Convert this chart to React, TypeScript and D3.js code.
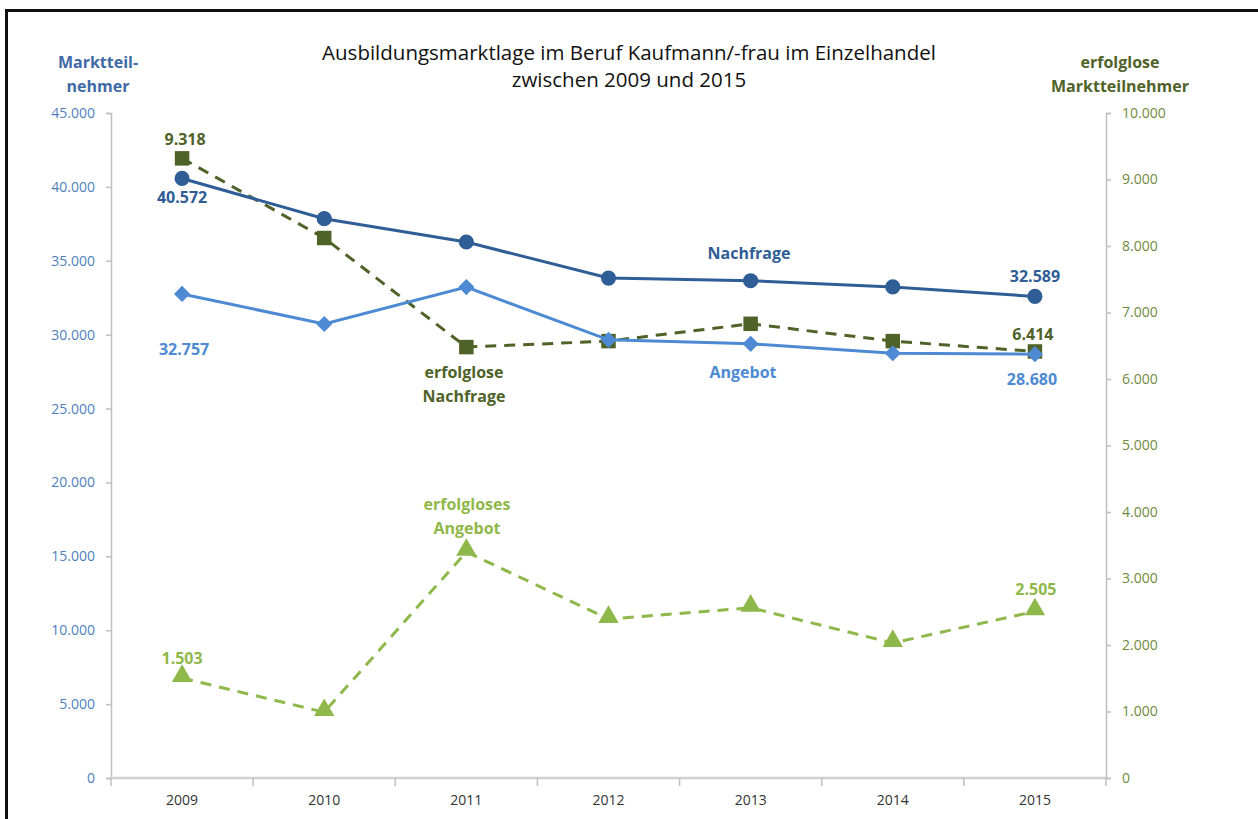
import React, { useEffect, useRef } from "react";
import * as d3 from "d3";

const years = ["2009", "2010", "2011", "2012", "2013", "2014", "2015"];
const nachfrage = [40572, 37850, 36270, 33830, 33650, 33230, 32589];
const angebot = [32757, 30720, 33220, 29650, 29380, 28740, 28680];
const erfolgloseNachfrage = [9318, 8120, 6480, 6570, 6830, 6570, 6414];
const erfolglosesAngebot = [1503, 990, 3400, 2390, 2560, 2030, 2505];
const leftTicks = [0, 5000, 10000, 15000, 20000, 25000, 30000, 35000, 40000, 45000];
const rightTicks = [0, 1000, 2000, 3000, 4000, 5000, 6000, 7000, 8000, 9000, 10000];

const fmt = (v: number) =>
  v === 0 ? "0" : d3.format(",")(v).replace(/,/g, ".");

const Chart = () => {
  const chartEl = useRef<SVGSVGElement>(null);

  useEffect(() => {
    const width = 1258,
      height = 819;
    const left = 111,
      right = 1106,
      top = 113,
      bottom = 778;
    const font = "'Open Sans', sans-serif";

    const svg = d3.select(chartEl.current);
    svg.selectAll("*").remove();
    svg.attr("width", width).attr("height", height);

    svg.append("rect").attr("width", width).attr("height", height).attr("fill", "#fff");

    // frame
    svg
      .append("path")
      .attr("d", `M6.5,${height} V10.5 H${width}`)
      .attr("fill", "none")
      .attr("stroke", "#111")
      .attr("stroke-width", 3);

    const x = d3.scaleBand().domain(years).range([left, right]);
    const xc = (i: number) => (x(years[i]) as number) + x.bandwidth() / 2;
    const yL = d3.scaleLinear().domain([0, 45000]).range([bottom, top]);
    const yR = d3.scaleLinear().domain([0, 10000]).range([bottom, top]);

    const axisColor = "#bfbfbf";

    // left axis
    const gl = svg
      .append("g")
      .attr("transform", `translate(${left},0)`)
      .call(d3.axisLeft(yL).tickValues(leftTicks).tickSize(5).tickPadding(11).tickFormat((d) => fmt(+d)));
    gl.selectAll("path, line").attr("stroke", axisColor).attr("stroke-width", 1.5);
    gl.selectAll("text").attr("fill", "#4f7fbc").style("font", `14px ${font}`);

    // right axis
    const gr = svg
      .append("g")
      .attr("transform", `translate(${right},0)`)
      .call(d3.axisRight(yR).tickValues(rightTicks).tickSize(5).tickPadding(11).tickFormat((d) => fmt(+d)));
    gr.selectAll("path, line").attr("stroke", axisColor).attr("stroke-width", 1.5);
    gr.selectAll("text").attr("fill", "#6f8a3e").style("font", `14px ${font}`);

    // bottom axis
    const gb = svg.append("g").attr("transform", `translate(0,${bottom})`);
    gb.append("line")
      .attr("x1", left)
      .attr("x2", right)
      .attr("stroke", "#d0d0d0")
      .attr("stroke-width", 2.5);
    gb.selectAll(".tk")
      .data(d3.range(years.length + 1))
      .enter()
      .append("line")
      .attr("x1", (i) => left + i * x.step())
      .attr("x2", (i) => left + i * x.step())
      .attr("y1", 0)
      .attr("y2", 8)
      .attr("stroke", axisColor)
      .attr("stroke-width", 1.5);
    gb.selectAll(".yr")
      .data(years)
      .enter()
      .append("text")
      .attr("x", (d, i) => xc(i))
      .attr("y", 27)
      .attr("text-anchor", "middle")
      .attr("fill", "#333")
      .style("font", `14px ${font}`)
      .text((d) => d);

    // titles
    const title = svg
      .append("text")
      .attr("text-anchor", "middle")
      .attr("fill", "#111")
      .style("font", `20.5px ${font}`);
    title.append("tspan").attr("x", 629).attr("y", 60).text("Ausbildungsmarktlage im Beruf Kaufmann/-frau im Einzelhandel");
    title.append("tspan").attr("x", 629).attr("y", 87).text("zwischen 2009 und 2015");

    const axTitle = (xp: number, lines: string[], color: string) => {
      const t = svg
        .append("text")
        .attr("text-anchor", "middle")
        .attr("fill", color)
        .style("font", `bold 16px ${font}`);
      lines.forEach((l, i) => t.append("tspan").attr("x", xp).attr("y", 68 + i * 24).text(l));
    };
    axTitle(98, ["Marktteil-", "nehmer"], "#3f6aa6");
    axTitle(1120, ["erfolglose", "Marktteilnehmer"], "#4f6228");

    const series = [
      { values: erfolglosesAngebot, y: yR, color: "#8fb84a", dash: "11,8", marker: "triangle" },
      { values: erfolgloseNachfrage, y: yR, color: "#4f6228", dash: "11,8", marker: "square" },
      { values: angebot, y: yL, color: "#4d8ad3", dash: null, marker: "diamond" },
      { values: nachfrage, y: yL, color: "#2f5d96", dash: null, marker: "circle" },
    ];

    series.forEach((s) => {
      const line = d3
        .line<number>()
        .x((d, i) => xc(i))
        .y((d) => s.y(d));
      svg
        .append("path")
        .datum(s.values)
        .attr("d", line)
        .attr("fill", "none")
        .attr("stroke", s.color)
        .attr("stroke-width", 3)
        .attr("stroke-dasharray", s.dash);

      const symType =
        s.marker === "circle"
          ? d3.symbolCircle
          : s.marker === "triangle"
          ? d3.symbolTriangle
          : d3.symbolSquare;
      const size = s.marker === "circle" ? 180 : s.marker === "square" ? 210 : s.marker === "diamond" ? 130 : 180;
      svg
        .selectAll(".m-" + s.marker)
        .data(s.values)
        .enter()
        .append("path")
        .attr("d", d3.symbol().type(symType).size(size))
        .attr(
          "transform",
          (d, i) =>
            `translate(${xc(i)},${s.y(d) + (s.marker === "triangle" ? -2 : 0)})` +
            (s.marker === "diamond" ? " rotate(45)" : "")
        )
        .attr("fill", s.color);
    });

    const label = (xp: number, yp: number, lines: string[], color: string) => {
      const t = svg
        .append("text")
        .attr("text-anchor", "middle")
        .attr("fill", color)
        .style("font", `bold 16px ${font}`);
      lines.forEach((l, i) => t.append("tspan").attr("x", xp).attr("y", yp + i * 24).text(l));
    };
    const c0 = xc(0),
      c6 = xc(6);
    label(c0 + 3, yR(erfolgloseNachfrage[0]) - 13, [fmt(erfolgloseNachfrage[0])], "#4f6228");
    label(c0, yL(nachfrage[0]) + 25, [fmt(nachfrage[0])], "#2f5d96");
    label(c0 + 2, yL(angebot[0]) + 61, [fmt(angebot[0])], "#4d8ad3");
    label(c0, yR(erfolglosesAngebot[0]) - 14, [fmt(erfolglosesAngebot[0])], "#8fb84a");
    label(c6, yL(nachfrage[6]) - 14, [fmt(nachfrage[6])], "#2f5d96");
    label(c6 - 2, yR(erfolgloseNachfrage[6]) - 11, [fmt(erfolgloseNachfrage[6])], "#4f6228");
    label(c6 - 3, yL(angebot[6]) + 31, [fmt(angebot[6])], "#4d8ad3");
    label(c6 + 1, yR(erfolglosesAngebot[6]) - 16, [fmt(erfolglosesAngebot[6])], "#8fb84a");
    label(749, 259, ["Nachfrage"], "#2f5d96");
    label(743, 378, ["Angebot"], "#4d8ad3");
    label(464, 378, ["erfolglose", "Nachfrage"], "#4f6228");
    label(467, 510, ["erfolgloses", "Angebot"], "#8fb84a");
  }, [chartEl]);

  return <svg ref={chartEl} style={{ position: "absolute", left: 0, top: 0, display: "block" }}></svg>;
};

export default function App() {
  return <Chart />;
}
